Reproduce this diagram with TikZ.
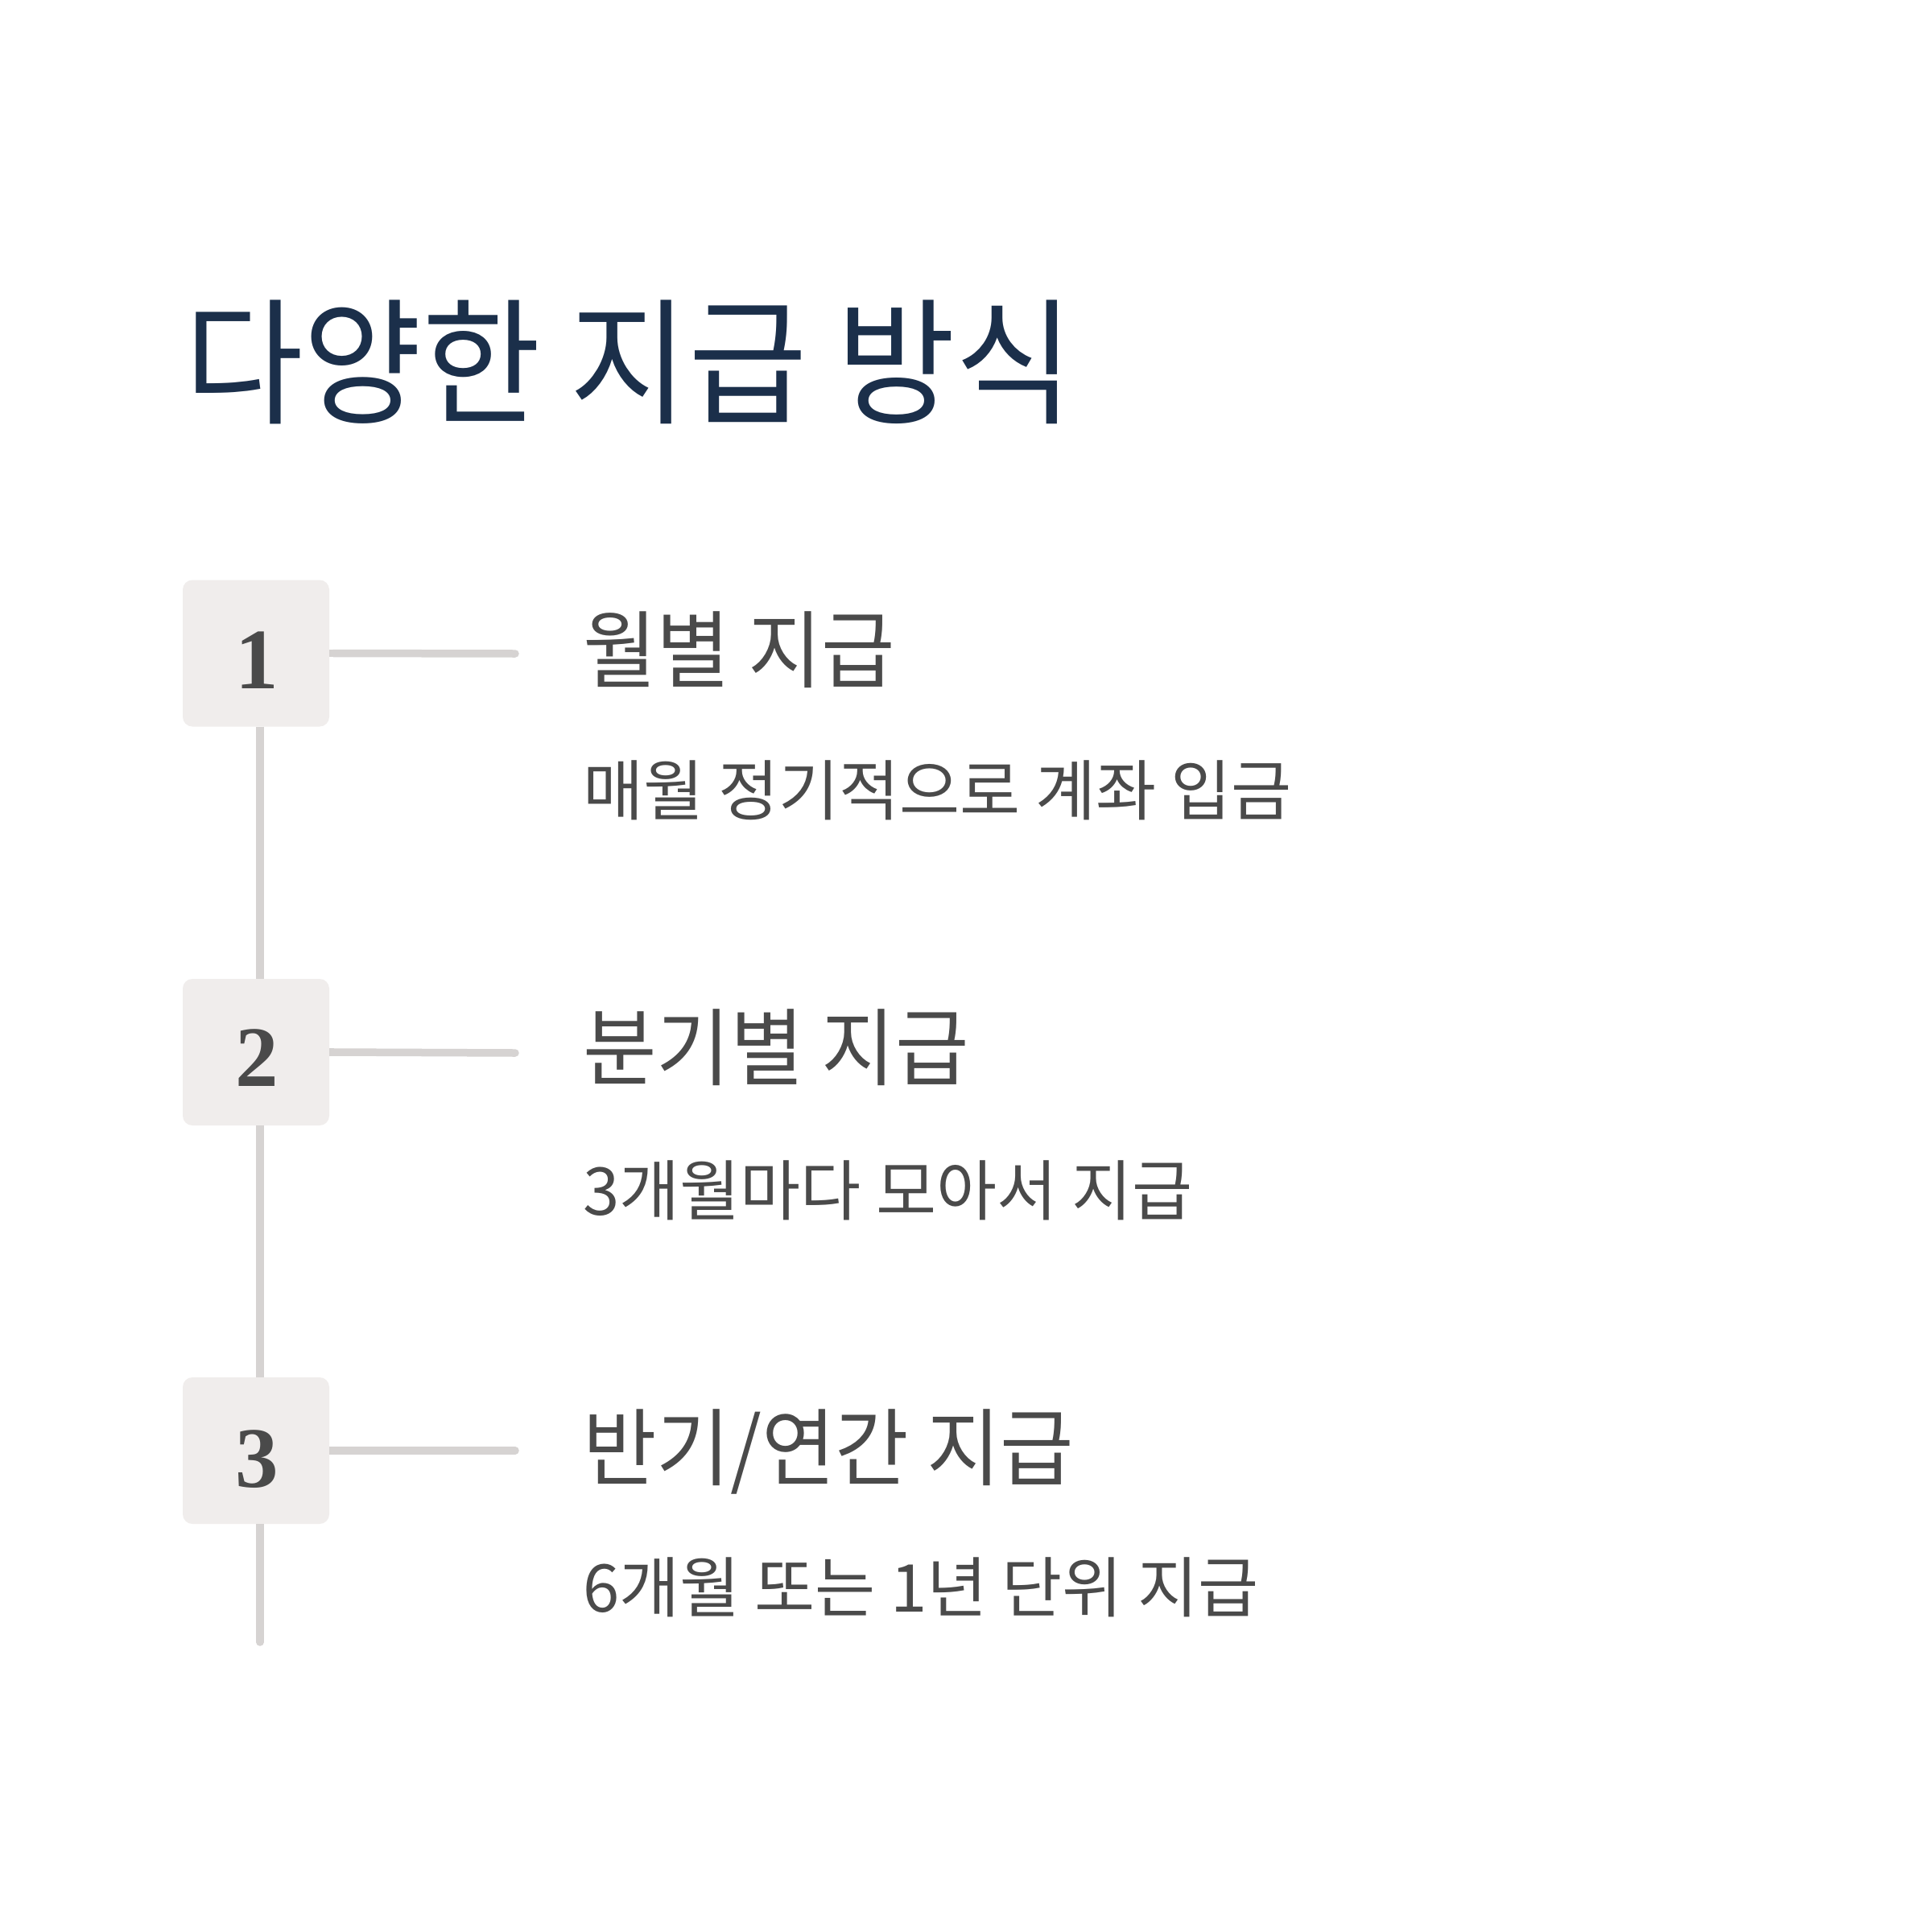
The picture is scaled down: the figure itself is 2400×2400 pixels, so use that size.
\documentclass[tikz,border=0pt]{standalone}
\usepackage{fontspec}
\newfontfamily\krtitle[FakeStretch=0.944]{Noto Sans CJK KR}
\newfontfamily\krhead[FakeStretch=0.947]{Noto Sans CJK KR}
\newfontfamily\krsub[FakeStretch=0.995]{Noto Sans CJK KR}
\newfontfamily\numfont{Liberation Serif}
\definecolor{navy}{HTML}{1B2F4A}
\definecolor{txt}{HTML}{4A4A4A}
\definecolor{boxfill}{HTML}{F0EDEC}
\definecolor{linec}{HTML}{D6D3D2}
\begin{document}
\begin{tikzpicture}[x=1pt,y=-1pt,
  numbox/.style={fill=boxfill, rounded corners=12pt, minimum width=182pt, minimum height=182pt, inner sep=0pt},
  numtxt/.style={font=\numfont\bfseries\fontsize{107}{107}\selectfont, text=txt, inner sep=0pt, anchor=base},
  conn/.style={draw=linec, line width=9.5pt, line cap=round},
  head/.style={font=\krhead\fontsize{105}{105}\selectfont, text=txt, inner sep=0pt, anchor=base west},
  sub/.style={font=\krsub\fontsize{82}{82}\selectfont, text=txt, inner sep=0pt, anchor=base west}]
\useasboundingbox[fill=white] (0,0) rectangle (2400,2400);
\node[font=\krtitle\fontsize{170}{170}\selectfont, text=navy, inner sep=0pt, anchor=base west] (title) at (229,513) {다양한 지급 방식};
% timeline
\coordinate (bot) at (323,2040);
\coordinate (e1) at (640,812);
\coordinate (e2) at (640,1308);
\coordinate (e3) at (640,1802);
\node[numbox] (b1) at (318,811.5) {};
\node[numbox] (b2) at (318,1307) {};
\node[numbox] (b3) at (318,1802) {};
\draw[conn, line cap=butt] (b1.south -| bot) -- (b2.north -| bot);
\draw[conn, line cap=butt] (b2.south -| bot) -- (b3.north -| bot);
\draw[conn] (b3.south -| bot) ++(0,5) -- (bot);
\draw[conn, line cap=butt] (b3.south -| bot) -- ++(0,6);
\draw[conn] (b1.east) ++(5,0) -- (e1);
\draw[conn] (b2.east) ++(5,0) -- (e2);
\draw[conn] (b3.east) ++(5,0) -- (e3);
\draw[conn, line cap=butt] (b1.east) -- ++(6,0);
\draw[conn, line cap=butt] (b2.east) -- ++(6,0);
\draw[conn, line cap=butt] (b3.east) -- ++(6,0);
\node[numtxt] (n1) at (319,855) {1};
\node[numtxt] (n2) at (319,1349) {2};
\node[numtxt] (n3) at (319,1847) {3};
\node[head] (h1) at (724,846) {월별 지급};
\node[sub] (s1) at (724,1012) {매월 정기적으로 계좌 입금};
\node[head] (h2) at (724,1340) {분기별 지급};
\node[sub] (s2) at (724,1509) {3개월마다 모아서 지급};
\node[head] (h3) at (724,1837) {반기/연간 지급};
\node[sub] (s3) at (724,2002) {6개월 또는 1년 단위 지급};
\end{tikzpicture}
\end{document}
